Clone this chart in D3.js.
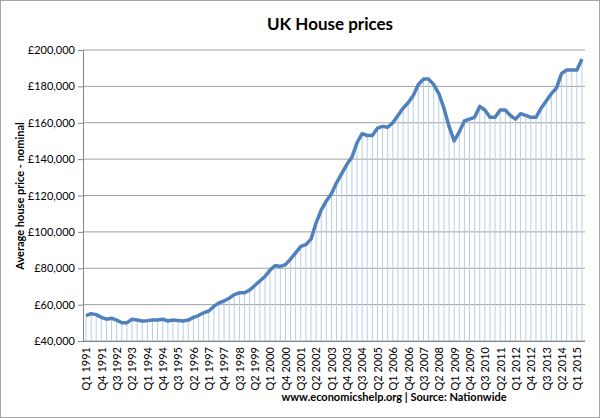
<!DOCTYPE html>
<meta charset='utf-8'>
<html>
<head>
<script src="https://d3js.org/d3.v7.min.js"></script>
<style>
body { margin: 0; background: #fff; }
text { font-family: Lato, "Open Sans", sans-serif; fill: #000; }
</style>
</head>
<body>
<svg id="chart" width="600" height="418"></svg>
<script>
// quarterly average price, Q1 1991 .. Q2 2015
var years = d3.range(1991, 2016);
var quarters = [];
years.forEach(function (y) { [1, 2, 3, 4].forEach(function (q) { quarters.push("Q" + q + " " + y); }); });
quarters = quarters.slice(0, 98);
var prices = [
  54000, 55000, 54500, 53000,
  52000, 52500, 51500, 50000,
  50000, 52000, 51500, 51000,
  51200, 51500, 51500, 52000,
  51000, 51500, 51300, 51000,
  51500, 53000, 54000, 55500,
  56500, 59000, 61000, 62000,
  63500, 65500, 66500, 66500,
  68000, 70500, 73000, 75500,
  79000, 81500, 81000, 82000,
  85000, 88500, 92000, 93000,
  96000, 105000, 112000, 117000,
  121000, 127000, 132000, 137000,
  141000, 149000, 154000, 153000,
  153000, 157000, 158000, 157500,
  160000, 164000, 168000, 171000,
  175000, 181000, 184000, 184000,
  181000, 176000, 168000, 158000,
  150000, 155000, 161000, 162000,
  163000, 169000, 167000, 163000,
  163000, 167000, 167000, 164000,
  162000, 165000, 164000, 163000,
  163000, 168000, 172000, 176000,
  179000, 187000, 189000, 189000,
  189000, 195000
];
var yTicks = [40000, 60000, 80000, 100000, 120000, 140000, 160000, 180000, 200000];

var svg = d3.select("#chart");
svg.append("rect").attr("x", 0.5).attr("y", 0.5).attr("width", 599).attr("height", 417)
  .attr("fill", "#fff").attr("stroke", "#a6a6a6");

var pLeft = 83, pRight = 585, pTop = 50, pBottom = 341;
var x = d3.scalePoint().domain(quarters).range([pLeft + 3, pRight - 3]);
var y = d3.scaleLinear().domain([40000, 200000]).range([pBottom, pTop]);

// grid
svg.append("g").selectAll("line").data(yTicks).enter().append("line")
  .attr("x1", pLeft).attr("x2", pRight)
  .attr("y1", function (d) { return y(d); }).attr("y2", function (d) { return y(d); })
  .attr("stroke", "#a0a0a0").attr("stroke-width", 1);

// drop lines
svg.append("g").selectAll("line").data(prices).enter().append("line")
  .attr("x1", function (d, i) { return x(quarters[i]); })
  .attr("x2", function (d, i) { return x(quarters[i]); })
  .attr("y1", function (d) { return y(d); }).attr("y2", pBottom)
  .attr("stroke", "#b9cde5").attr("stroke-width", 1);

// y axis
var yAxis = svg.append("g").attr("transform", "translate(" + pLeft + ",0)")
  .call(d3.axisLeft(y).tickValues(yTicks).tickSize(5).tickPadding(3)
    .tickFormat(function (d) { return "£" + d3.format(",")(d); }));
yAxis.select(".domain").attr("stroke", "#868686");
yAxis.selectAll(".tick line").attr("stroke", "#868686");
yAxis.selectAll("text").style("font-size", "11px").style("font-family", "Lato, sans-serif");

// x axis
var xAxis = svg.append("g").attr("transform", "translate(0," + pBottom + ")")
  .call(d3.axisBottom(x).tickValues(quarters.filter(function (d, i) { return i % 3 == 0; })).tickSize(0));
xAxis.select(".domain").attr("stroke", "#868686").attr("d", "M" + pLeft + ",0.5H" + pRight);
xAxis.selectAll("text").attr("transform", "rotate(-90)").attr("text-anchor", "end")
  .attr("x", -6).attr("y", 0).attr("dy", "0.35em")
  .style("font-size", "11px").style("font-family", "Lato, sans-serif");

// line
svg.append("path").datum(prices)
  .attr("fill", "none").attr("stroke", "#4f81bd").attr("stroke-width", 3.5)
  .attr("stroke-linejoin", "round")
  .attr("d", d3.line().x(function (d, i) { return x(quarters[i]); }).y(function (d) { return y(d); }));

svg.append("text").attr("x", 330).attr("y", 30).attr("text-anchor", "middle")
  .style("font-size", "17px").style("font-weight", "bold").text("UK House prices");
svg.append("text").attr("transform", "translate(24,196) rotate(-90)").attr("text-anchor", "middle")
  .style("font-size", "11px").style("font-weight", "bold").text("Average house price  - nominal");
svg.append("text").attr("x", 394).attr("y", 401).attr("text-anchor", "middle")
  .style("font-size", "11px").style("font-weight", "bold").text("www.economicshelp.org | Source: Nationwide");
</script>
</body>
</html>
